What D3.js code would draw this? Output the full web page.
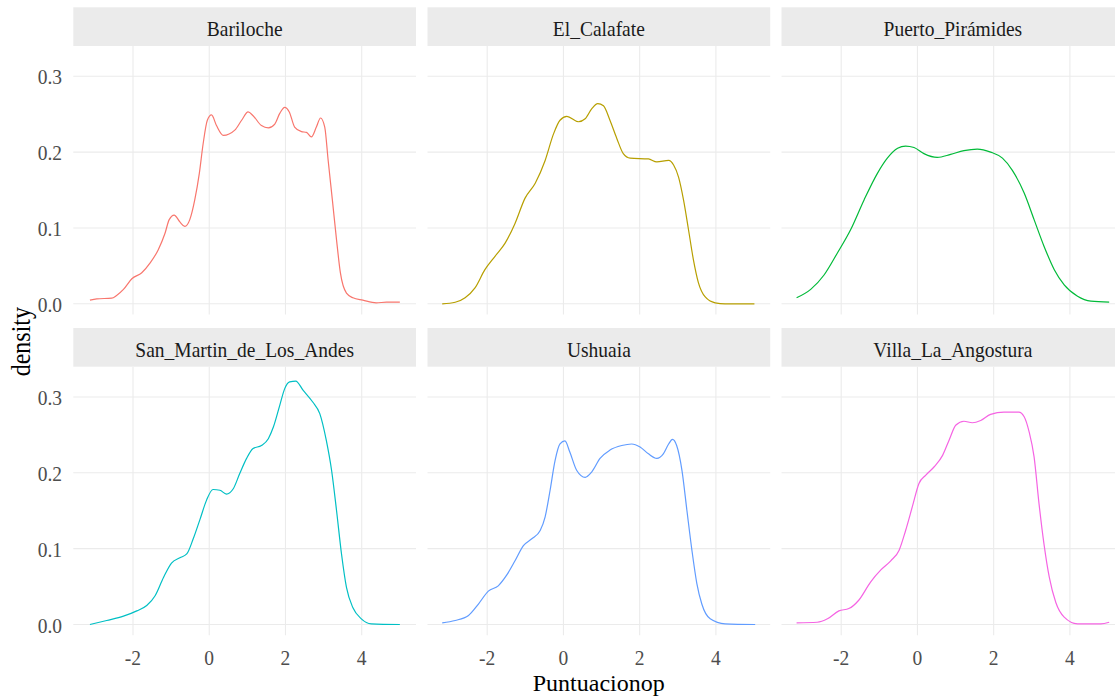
<!DOCTYPE html>
<html>
<head>
<meta charset="utf-8">
<script src="https://cdn.jsdelivr.net/npm/d3@7"></script>
<style>
  body { margin: 0; background: #fff; }
  text { font-family: "Liberation Serif", "Times New Roman", serif; }
  .grid { stroke: #ebebeb; stroke-width: 1.1; }
  .strip { fill: #ebebeb; }
  .strip-label { fill: #1a1a1a; font-size: 19.5px; text-anchor: middle; }
  .tick-label { fill: #4d4d4d; font-size: 19.5px; }
  .title { fill: #000; font-size: 24px; text-anchor: middle; }
  .density { fill: none; stroke-width: 1.2; }
</style>
</head>
<body>
<div id="graph"></div>
<script>
const destinos = ["Bariloche", "El_Calafate", "Puerto_Pirámides",
  "San_Martin_de_Los_Andes", "Ushuaia", "Villa_La_Angostura"];
const colores = ["#F8766D", "#B79F00", "#00BA38", "#00BFC4", "#619CFF", "#F564E3"];
const xTicks = [-2, 0, 2, 4];
const yTicks = [0, 0.1, 0.2, 0.3];

// [Puntuacionop, density]
const bariloche = [[-3.13, 0.0048], [-2.95, 0.0066], [-2.56, 0.0074], [-2.43, 0.011], [-2.25, 0.019],
  [-2.03, 0.033], [-1.77, 0.041], [-1.55, 0.054], [-1.34, 0.071], [-1.16, 0.093], [-1.05, 0.111],
  [-0.92, 0.117], [-0.77, 0.108], [-0.64, 0.102], [-0.51, 0.111], [-0.38, 0.137], [-0.26, 0.172],
  [-0.16, 0.211], [-0.05, 0.242], [0.06, 0.249], [0.19, 0.235], [0.37, 0.222], [0.67, 0.229],
  [0.85, 0.242], [1.02, 0.253], [1.15, 0.248], [1.37, 0.235], [1.55, 0.232], [1.72, 0.237],
  [1.85, 0.251], [1.98, 0.259], [2.10, 0.253], [2.24, 0.233], [2.42, 0.227], [2.55, 0.226],
  [2.68, 0.220], [2.81, 0.233], [2.92, 0.245], [3.03, 0.233], [3.12, 0.189], [3.23, 0.137],
  [3.34, 0.084], [3.44, 0.041], [3.60, 0.014], [3.77, 0.0079], [4.03, 0.0048], [4.38, 0.0013],
  [4.65, 0.0022], [5.00, 0.0022]];
const elCalafate = [[-3.18, 0], [-2.84, 0.002], [-2.58, 0.008], [-2.32, 0.021], [-2.06, 0.045],
  [-1.79, 0.063], [-1.53, 0.080], [-1.27, 0.106], [-1.01, 0.139], [-0.74, 0.159], [-0.48, 0.189],
  [-0.26, 0.224], [-0.09, 0.242], [0.09, 0.247], [0.39, 0.240], [0.57, 0.244], [0.74, 0.257],
  [0.90, 0.264], [1.05, 0.261], [1.22, 0.242], [1.40, 0.218], [1.57, 0.198], [1.75, 0.192],
  [2.23, 0.191], [2.45, 0.187], [2.76, 0.189], [2.89, 0.183], [3.02, 0.167], [3.15, 0.137],
  [3.28, 0.098], [3.41, 0.058], [3.54, 0.028], [3.72, 0.009], [3.98, 0.0013], [4.24, 0],
  [5.01, 0]];
const puertoPiramides = [[-3.17, 0.0079], [-2.80, 0.019], [-2.45, 0.038], [-2.10, 0.067],
  [-1.75, 0.098], [-1.40, 0.137], [-1.05, 0.172], [-0.79, 0.192], [-0.52, 0.205], [-0.31, 0.208],
  [-0.09, 0.206], [0.17, 0.198], [0.52, 0.193], [0.87, 0.197], [1.22, 0.202], [1.57, 0.204],
  [1.92, 0.200], [2.23, 0.192], [2.49, 0.176], [2.80, 0.146], [3.06, 0.111], [3.32, 0.076],
  [3.59, 0.045], [3.85, 0.025], [4.20, 0.010], [4.55, 0.0035], [5.03, 0.0022]];
const sanMartin = [[-3.13, 0], [-2.69, 0.0053], [-2.25, 0.011], [-1.90, 0.018], [-1.64, 0.025],
  [-1.42, 0.038], [-1.20, 0.062], [-0.99, 0.081], [-0.77, 0.088], [-0.59, 0.093], [-0.42, 0.113],
  [-0.24, 0.139], [-0.07, 0.164], [0.10, 0.178], [0.28, 0.177], [0.45, 0.172], [0.63, 0.179],
  [0.80, 0.199], [0.98, 0.219], [1.15, 0.232], [1.37, 0.236], [1.55, 0.245], [1.68, 0.260],
  [1.85, 0.289], [1.98, 0.311], [2.11, 0.320], [2.27, 0.321], [2.46, 0.309], [2.72, 0.293],
  [2.90, 0.278], [3.07, 0.243], [3.21, 0.203], [3.34, 0.150], [3.47, 0.093], [3.60, 0.049],
  [3.77, 0.022], [3.99, 0.0075], [4.25, 0.0009], [5.00, 0]];
const ushuaia = [[-3.18, 0.0022], [-2.84, 0.0053], [-2.49, 0.012], [-2.23, 0.027], [-1.97, 0.044],
  [-1.71, 0.051], [-1.49, 0.065], [-1.27, 0.084], [-1.05, 0.104], [-0.83, 0.113], [-0.61, 0.124],
  [-0.48, 0.142], [-0.35, 0.177], [-0.22, 0.216], [-0.09, 0.238], [0.04, 0.242], [0.17, 0.227],
  [0.35, 0.203], [0.57, 0.194], [0.74, 0.201], [0.96, 0.219], [1.22, 0.230], [1.53, 0.236],
  [1.79, 0.238], [2.01, 0.234], [2.23, 0.225], [2.45, 0.219], [2.62, 0.225], [2.76, 0.238],
  [2.86, 0.244], [2.97, 0.236], [3.11, 0.203], [3.24, 0.150], [3.37, 0.098], [3.50, 0.054],
  [3.63, 0.027], [3.85, 0.0075], [4.24, 0.0009], [5.03, 0]];
const villaLaAngostura = [[-3.17, 0.0022], [-2.63, 0.003], [-2.36, 0.0075], [-2.06, 0.018],
  [-1.80, 0.021], [-1.54, 0.032], [-1.23, 0.056], [-0.96, 0.072], [-0.70, 0.084], [-0.48, 0.098],
  [-0.31, 0.124], [-0.13, 0.156], [0.04, 0.186], [0.22, 0.197], [0.44, 0.208], [0.66, 0.223],
  [0.83, 0.243], [1.01, 0.263], [1.22, 0.268], [1.44, 0.266], [1.66, 0.269], [1.92, 0.277],
  [2.27, 0.280], [2.66, 0.280], [2.80, 0.274], [2.93, 0.254], [3.06, 0.221], [3.19, 0.159],
  [3.32, 0.106], [3.46, 0.062], [3.63, 0.029], [3.85, 0.0097], [4.20, 0.0009], [4.81, 0.0009],
  [5.03, 0.003]];
const series = [bariloche, elCalafate, puertoPiramides, sanMartin, ushuaia, villaLaAngostura];

const width = 1115;
const height = 697;
const colX = [73.3, 427.5, 781.5];
const rowY = [7.3, 328];
const panelW = 342.7;
const stripH = 38.7;
const panelH = 268.5;
const textStretch = 1.1; // glyphs in the picture are a bit taller than wide

const svg = d3.select("#graph").append("svg")
  .attr("width", width)
  .attr("height", height);

const x = d3.scaleLinear().domain([-3.566, 5.424]).range([0, panelW]);
const y = d3.scaleLinear().domain([-0.0141, 0.3399]).range([panelH, 0]);

const line = d3.line()
  .x(d => x(d[0]))
  .y(d => y(d[1]))
  .curve(d3.curveMonotoneX);

function addText(g, cls, tx, ty, label, anchor, stretch = textStretch) {
  const t = g.append("text")
    .attr("class", cls)
    .attr("transform", `translate(${tx},${ty}) scale(1,${stretch})`)
    .text(label);
  if (anchor) t.attr("text-anchor", anchor);
  return t;
}

destinos.forEach((name, i) => {
  const col = i % 3;
  const row = Math.floor(i / 3);
  const g = svg.append("g")
    .attr("transform", `translate(${colX[col]},${rowY[row]})`);

  g.append("rect")
    .attr("class", "strip")
    .attr("width", panelW)
    .attr("height", stripH);
  addText(g, "strip-label", panelW / 2, 28.7, name);

  const p = g.append("g").attr("transform", `translate(0,${stripH})`);

  p.selectAll(".gy").data(yTicks).join("line")
    .attr("class", "grid")
    .attr("x1", 0).attr("x2", panelW)
    .attr("y1", d => y(d)).attr("y2", d => y(d));
  p.selectAll(".gx").data(xTicks).join("line")
    .attr("class", "grid")
    .attr("x1", d => x(d)).attr("x2", d => x(d))
    .attr("y1", 0).attr("y2", panelH);

  p.append("path")
    .datum(series[i])
    .attr("class", "density")
    .attr("stroke", colores[i])
    .attr("d", line);

  if (col === 0) {
    yTicks.forEach(v => {
      addText(p, "tick-label", -11.3, y(v) + 8, d3.format(".1f")(v), "end");
    });
  }
  if (row === 1) {
    xTicks.forEach(v => {
      addText(p, "tick-label", x(v), panelH + 29.5, v < 0 ? "-" + Math.abs(v) : String(v), "middle", 1.05);
    });
  }
});

const left = colX[0];
const right = colX[2] + panelW;
addText(svg, "title", (left + right) / 2, 690.5, "Puntuacionop", null, 1);
svg.append("text")
  .attr("class", "title")
  .attr("transform", `translate(30,341.7) rotate(-90) scale(1,${textStretch})`)
  .text("density");
</script>
</body>
</html>
